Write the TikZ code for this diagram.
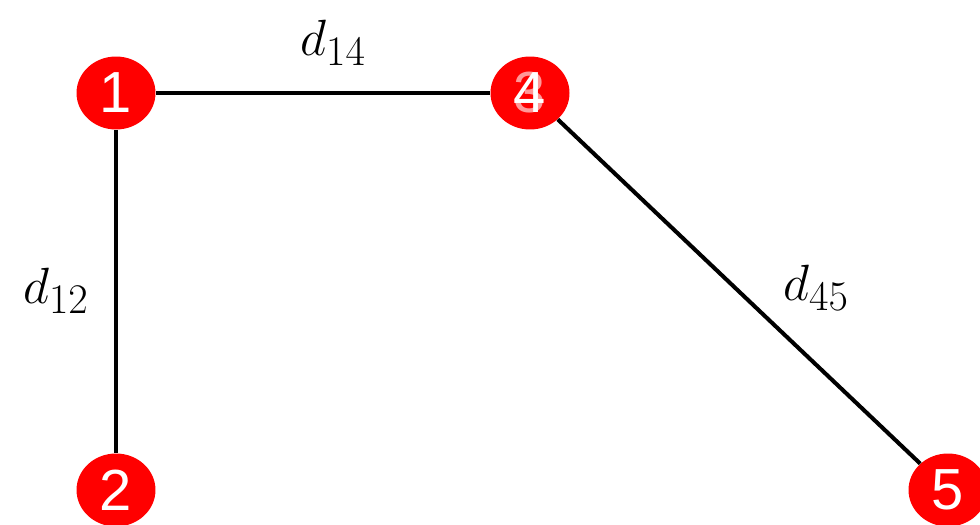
\documentclass[tikz,border=0pt]{standalone}
\usepackage{fix-cm}
\usepackage{fontspec}
\usepackage{amsmath}
\usetikzlibrary{shapes.geometric}
\newfontfamily\digitfont{Liberation Sans}
\DeclareMathSizes{29}{29}{24}{18}
\begin{document}
\begin{tikzpicture}[x=0.02cm, y=-0.02cm,
    vertex/.style={ellipse, fill=red, text=white, inner sep=0pt,
        minimum width=1.58cm, minimum height=1.46cm,
        font=\digitfont\fontsize{33}{36}\selectfont},
    link/.style={line width=2.3pt, black},
    dist/.style={font=\fontsize{29}{32}\selectfont}]
    % --- canvas (fixed size) ---
    \useasboundingbox (0, 0) rectangle (980, 524);
    % --- vertices ---
    \node[vertex] (n1) at (116, 93) {1};
    \node[vertex] (n2) at (116, 490) {2};
    \node[vertex, text opacity=0.6] (n3) at (530, 93) {3};
    \node[vertex, fill=none] (n4) at (530, 93) {4};
    \node[vertex] (n5) at (948, 490) {5};
    % --- edges ---
    \draw[link] (n1) -- (n4);
    \draw[link] (n1) -- (n2);
    \draw[link] (n4) -- (n5);
    % --- distance labels ---
    \node[dist] (l14) at (333, 43) {$d_{14}$};
    \node[dist] (l12) at (56, 291) {$d_{12}$};
    \node[dist] (l45) at (816, 288) {$d_{45}$};
\end{tikzpicture}
\end{document}
